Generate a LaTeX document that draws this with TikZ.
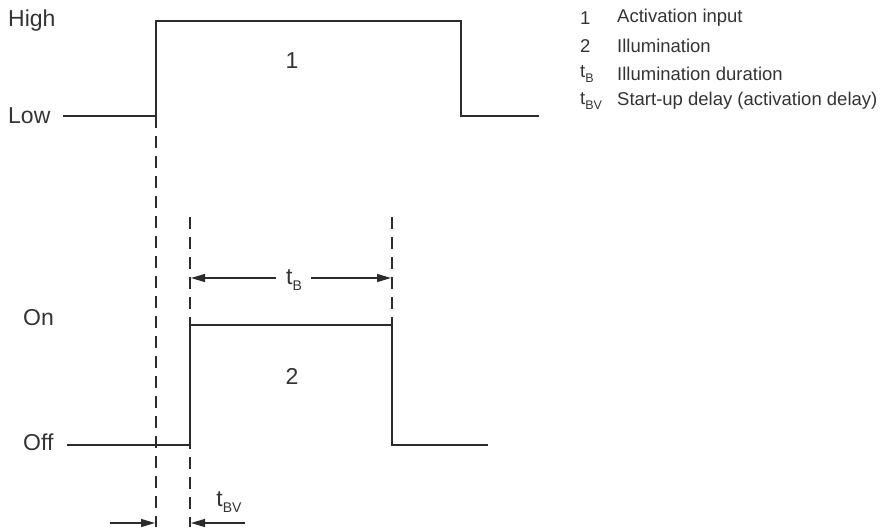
\documentclass[tikz,border=0pt]{standalone}
\usepackage{fontspec}
\setmainfont{Liberation Sans}
\usetikzlibrary{arrows.meta}
\definecolor{ink}{HTML}{2B2B2B}
\definecolor{txt}{HTML}{333333}
\newcommand{\mysub}[1]{\raisebox{-0.55ex}{\fontsize{14}{14}\selectfont #1}}
\newcommand{\mysubs}[1]{\raisebox{-0.55ex}{\fontsize{12.5}{12.5}\selectfont #1}}
\begin{document}
\begin{tikzpicture}[x=1pt,y=-1pt,
  signal/.style={draw=ink,line width=2.8pt,line join=miter},
  guide/.style={draw=ink,line width=2.6pt,dash pattern=on 12pt off 8pt},
  dim/.style={draw=ink,line width=1.3pt,-{Triangle[length=14pt,width=8pt]}},
  lbl/.style={text=txt,font=\fontsize{23}{23}\selectfont,inner sep=0pt},
  num/.style={text=txt,font=\fontsize{23}{23}\selectfont,inner sep=0pt},
  leg/.style={text=txt,font=\fontsize{18.5}{18.5}\selectfont,inner sep=0pt,anchor=west}]
\useasboundingbox (0,0) rectangle (882,527);
% coordinates
\coordinate (a0) at (63,116);
\coordinate (a1) at (156,116);
\coordinate (a2) at (156,21);
\coordinate (a3) at (461,21);
\coordinate (a4) at (461,116);
\coordinate (a5) at (539,116);
\coordinate (b0) at (67,445);
\coordinate (b1) at (190,445);
\coordinate (b2) at (190,325);
\coordinate (b3) at (392,325);
\coordinate (b4) at (392,445);
\coordinate (b5) at (488,445);
% guides
\coordinate (g1e) at (156,527);
\coordinate (g2s) at (190,217);
\coordinate (g2e) at (190,527);
\coordinate (g3s) at (392,217);
% signals
\draw[signal] (a0) -- (a1) -- (a2) -- (a3) -- (a4) -- (a5);
\draw[signal] (b0) -- (b1) -- (b2) -- (b3) -- (b4) -- (b5);
\draw[guide] (a1) -- (g1e);
\draw[guide] (g2s) -- (g2e);
\draw[guide] (g3s) -- (b3);
% level labels
\node[lbl,anchor=west] (high) at (8,21) {High};
\node[lbl,anchor=west] (low) at (8,116) {Low};
\node[lbl,anchor=west] (on) at (23,318) {On};
\node[lbl,anchor=west] (off) at (23,442) {Off};
\node[num] (n1) at (292,61) {1};
\node[num] (n2) at (292,376) {2};
% tB dimension
\node[lbl] (tb) at (294,280) {t\mysub{B}};
\coordinate (tbL) at (191,278);
\coordinate (tbR) at (391,278);
\draw[dim] (276,278) coordinate (tbl0) -- (tbL);
\draw[dim] (311,278) coordinate (tbr0) -- (tbR);
% tBV dimension
\node[lbl] (tbv) at (229,502) {t\mysub{BV}};
\coordinate (bvL) at (155,523);
\coordinate (bvR) at (191,523);
\draw[dim] (110,523) coordinate (bvl0) -- (bvL);
\draw[dim] (245,523) coordinate (bvr0) -- (bvR);
% legend
\node[leg] (l1n) at (580,18) {1};
\node[leg] (l1t) at (617,18) {Activation input};
\node[leg] (l2n) at (580,46) {2};
\node[leg] (l2t) at (617,46) {Illumination};
\node[leg] (l3n) at (580,74) {t\mysubs{B}};
\node[leg] (l3t) at (617,74) {Illumination duration};
\node[leg] (l4n) at (580,101) {t\mysubs{BV}};
\node[leg] (l4t) at (617,101) {Start-up delay (activation delay)};
\end{tikzpicture}
\end{document}
